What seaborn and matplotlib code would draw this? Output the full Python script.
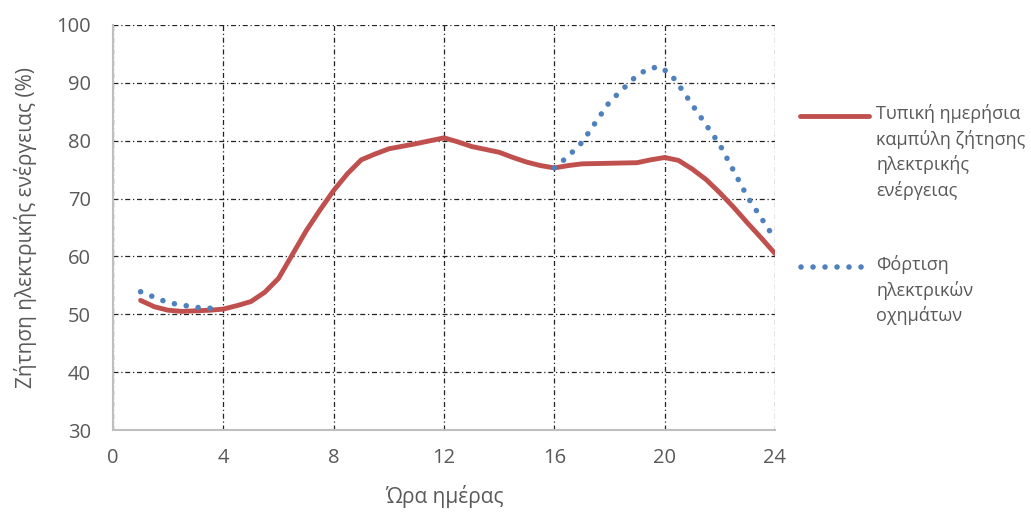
import matplotlib
matplotlib.use("Agg")
import matplotlib.pyplot as plt
from matplotlib.lines import Line2D
import seaborn as sns

# Typical daily electricity demand (% of peak capacity) by hour
demand_hours = [1, 1.5, 2, 2.5, 3, 3.5, 4, 4.5, 5, 5.5, 6, 6.5, 7, 7.5, 8, 8.5,
                9, 9.5, 10, 11, 11.5, 12, 12.5, 13, 14, 14.5, 15, 15.5, 16,
                16.5, 17, 18, 19, 19.5, 20, 20.5, 21, 21.5, 22, 22.5, 23,
                23.5, 24]
demand_values = [52.4, 51.3, 50.7, 50.5, 50.6, 50.7, 50.9, 51.5, 52.2, 53.8,
                 56.2, 60.3, 64.4, 68.0, 71.4, 74.3, 76.7, 77.7, 78.6, 79.5,
                 80.0, 80.5, 79.8, 79.0, 78.0, 77.1, 76.3, 75.7, 75.3, 75.7,
                 76.0, 76.1, 76.2, 76.7, 77.1, 76.6, 75.1, 73.3, 71.0, 68.5,
                 65.8, 63.2, 60.5]

# Demand including electric-vehicle charging (night and evening windows)
ev_night_hours = [1, 2, 3, 3.7]
ev_night_values = [53.9, 52.0, 51.2, 51.0]
ev_evening_hours = [16, 16.5, 17, 18, 19, 19.4, 19.8, 20.2, 20.5, 21, 22, 23, 24]
ev_evening_values = [75.3, 77.3, 79.7, 86.7, 91.3, 92.4, 92.8, 91.6, 89.7,
                     86.2, 79.3, 70.3, 63.0]

x_ticks = [0, 4, 8, 12, 16, 20, 24]
y_ticks = [30, 40, 50, 60, 70, 80, 90, 100]

demand_label = "Τυπική ημερήσια\nκαμπύλη ζήτησης\nηλεκτρικής\nενέργειας"
ev_label = "Φόρτιση\nηλεκτρικών\nοχημάτων"
x_label = "Ώρα ημέρας"
y_label = "Ζήτηση ηλεκτρικής ενέργειας (%)"

RED = "#C0504D"
BLUE = "#4F81BD"
TEXT = "#595959"
AXIS = "#BFBFBF"

sns.set_theme(style="white")
plt.rcParams["font.family"] = ["Open Sans", "DejaVu Sans"]

fig = plt.figure(figsize=(10.31, 5.13), dpi=100)
ax = fig.add_axes([113 / 1031, 1 - 430 / 513, (775 - 113) / 1031, (430 - 25) / 513])

grid_style = dict(color="#222222", linewidth=0.9, linestyle=(0, (4, 2.2, 1, 2.2)))
ax.set_axisbelow(True)
ax.grid(True, **grid_style)

sns.lineplot(x=demand_hours, y=demand_values, ax=ax, color=RED, linewidth=3.5,
             solid_capstyle="round", solid_joinstyle="round")
dotted = dict(color=BLUE, linewidth=4.0, linestyle=(0, (0.01, 2.15)),
              dash_capstyle="round")
sns.lineplot(x=ev_night_hours, y=ev_night_values, ax=ax, **dotted)
sns.lineplot(x=ev_evening_hours, y=ev_evening_values, ax=ax, **dotted)

ax.set_xlim(0, 24)
ax.set_ylim(30, 100)
ax.set_xticks(x_ticks)
ax.set_yticks(y_ticks)
ax.tick_params(axis="both", which="both", direction="out", length=5, width=1.2,
               color=AXIS, labelcolor=TEXT, labelsize=14.5)
ax.tick_params(axis="x", pad=8)
ax.tick_params(axis="y", pad=11)

for side in ("top", "right"):
    ax.spines[side].set_visible(False)
for side in ("left", "bottom"):
    ax.spines[side].set_color(AXIS)
    ax.spines[side].set_linewidth(1.5)

ax.set_xlabel(x_label, fontsize=15, color=TEXT, labelpad=12)
ax.set_ylabel(y_label, fontsize=15, color=TEXT, labelpad=14)

# Legend drawn beside the plot area, handles aligned with the first label line
fig.add_artist(Line2D([800 / 1031, 869 / 1031], [1 - 116 / 513] * 2,
                      color=RED, linewidth=3.5, solid_capstyle="round"))
fig.add_artist(Line2D([801 / 1031, 869 / 1031], [1 - 267 / 513] * 2,
                      **dotted))
fig.text(876 / 1031, 1 - 104 / 513, demand_label, fontsize=13, color=TEXT,
         va="top", ha="left", linespacing=1.45)
fig.text(876 / 1031, 1 - 255 / 513, ev_label, fontsize=13, color=TEXT,
         va="top", ha="left", linespacing=1.45)

fig.savefig("out.png", dpi=100)
